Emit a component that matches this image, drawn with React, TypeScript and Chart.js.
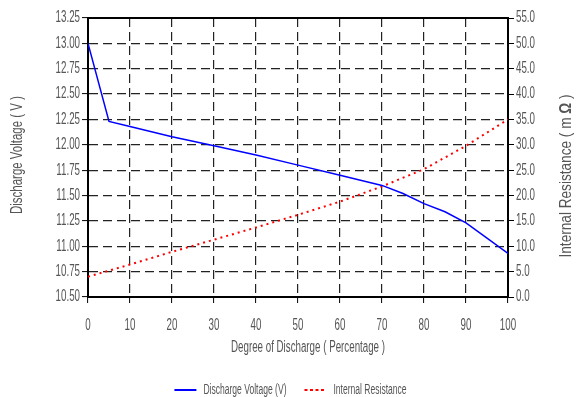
import React, { useEffect, useRef } from "react";
import { Chart, registerables } from "chart.js";

Chart.register(...registerables);

const dischargePct = [0, 5, 10, 20, 30, 40, 50, 60, 70, 75, 80, 85, 90, 95, 100];
const voltage = [13.0, 12.23, 12.18, 12.08, 11.99, 11.9, 11.8, 11.7, 11.6, 11.52, 11.42, 11.34, 11.23, 11.08, 10.93];

const resistancePct = [0, 10, 20, 30, 40, 50, 60, 70, 80, 90, 100];
const resistance = [4.0, 6.4, 8.9, 11.3, 13.7, 16.2, 18.8, 21.8, 25.2, 29.8, 35.0];

const seriesNames = ["Discharge Voltage (V)", "Internal Resistance"];
const xTitle = "Degree of Discharge ( Percentage )";
const yLeftTitle = "Discharge Voltage ( V )";
const yRightTitleParts = ["Internal Resistance ( m ", "Ω", " )"];

const FONT = "'Liberation Sans', Arial, sans-serif";
const TEXT = "#555555";
const CONDENSE = 0.61;

function condense(ctx: any) {
  if (ctx.__condensed) return;
  ctx.__condensed = true;
  const mt = ctx.measureText.bind(ctx);
  const ft = ctx.fillText.bind(ctx);
  ctx.measureText = (t: string) => {
    const m = mt(t);
    return {
      width: m.width * CONDENSE,
      actualBoundingBoxAscent: m.actualBoundingBoxAscent,
      actualBoundingBoxDescent: m.actualBoundingBoxDescent,
      actualBoundingBoxLeft: m.actualBoundingBoxLeft * CONDENSE,
      actualBoundingBoxRight: m.actualBoundingBoxRight * CONDENSE,
      fontBoundingBoxAscent: m.fontBoundingBoxAscent,
      fontBoundingBoxDescent: m.fontBoundingBoxDescent,
    };
  };
  ctx.fillText = (t: string, x: number, y: number, maxW?: number) => {
    const w = mt(t).width * CONDENSE;
    if (w <= 0) return;
    ft(t, x, y, maxW === undefined ? w : Math.min(maxW, w));
  };
}

function drawTitle(ctx: any, parts: [string, string][], cx: number, cy: number, length: number, vertical: boolean) {
  ctx.save();
  ctx.translate(cx, cy);
  if (vertical) ctx.rotate(-Math.PI / 2);
  let total = 0;
  const widths = parts.map(([t, f]) => {
    ctx.font = f;
    const w = ctx.measureText(t).width;
    total += w;
    return w;
  });
  ctx.scale(length / total, 1);
  ctx.fillStyle = TEXT;
  ctx.textBaseline = "middle";
  ctx.textAlign = "left";
  let x = -total / 2;
  parts.forEach(([t, f], i) => {
    ctx.font = f;
    ctx.fillText(t, x, 0);
    x += widths[i];
  });
  ctx.restore();
}

const frame = {
  id: "frame",
  afterDatasetsDraw(chart: any) {
    const { ctx, chartArea } = chart;
    ctx.save();
    ctx.strokeStyle = "#000";
    ctx.lineWidth = 2;
    ctx.setLineDash([]);
    ctx.beginPath();
    ctx.moveTo(chartArea.left - 1, chartArea.top);
    ctx.lineTo(chartArea.right + 1, chartArea.top);
    ctx.stroke();
    ctx.restore();
  },
  afterDraw(chart: any) {
    const { ctx } = chart;
    const normal = `16px ${FONT}`;
    const bold = `bold 16px ${FONT}`;
    drawTitle(ctx, [[xTitle, normal]], 308, 348, 154, false);
    drawTitle(ctx, [[yLeftTitle, normal]], 18, 155, 118, true);
    drawTitle(
      ctx,
      [[yRightTitleParts[0], normal], [yRightTitleParts[1], bold], [yRightTitleParts[2], normal]],
      567,
      176,
      163,
      true
    );
  },
};

export default function App() {
  const ref = useRef<HTMLCanvasElement>(null);
  useEffect(() => {
    document.body.style.margin = "0";
    const canvas = ref.current as HTMLCanvasElement;
    condense(canvas.getContext("2d"));
    const chart = new Chart(canvas, {
      type: "line",
      data: {
        datasets: [
          {
            label: seriesNames[0],
            data: dischargePct.map((x, i) => ({ x, y: voltage[i] })),
            borderColor: "#0000ff",
            backgroundColor: "#0000ff",
            borderWidth: 1.5,
            pointRadius: 0,
            pointStyle: "line",
            yAxisID: "y",
          },
          {
            label: seriesNames[1],
            data: resistancePct.map((x, i) => ({ x, y: resistance[i] })),
            borderColor: "#ff0000",
            backgroundColor: "#ff0000",
            borderWidth: 2,
            borderDash: [2, 4],
            pointRadius: 0,
            pointStyle: "line",
            yAxisID: "y1",
          },
        ],
      } as any,
      options: {
        animation: false,
        responsive: false,
        maintainAspectRatio: false,
        layout: { padding: { top: 18, bottom: -10, left: 0, right: 0 } },
        plugins: {
          tooltip: { enabled: false },
          legend: {
            position: "bottom",
            labels: {
              usePointStyle: true,
              pointStyleWidth: 22,
              boxHeight: 14,
              padding: 18,
              color: TEXT,
              font: { family: FONT, size: 14 },
              generateLabels: (chart: any) =>
                chart.data.datasets.map((ds: any, i: number) => ({
                  text: ds.label,
                  fillStyle: ds.borderColor,
                  strokeStyle: ds.borderColor,
                  lineWidth: 2,
                  lineDash: ds.borderDash ? [3, 2.5] : [],
                  pointStyle: "line",
                  fontColor: TEXT,
                  hidden: false,
                  datasetIndex: i,
                })),
            },
          },
        },
        scales: {
          x: {
            type: "linear",
            min: 0,
            max: 100,
            ticks: { stepSize: 10, color: TEXT, font: { family: FONT, size: 16 }, padding: 13 },
            grid: { color: "#222", lineWidth: 1.2, tickLength: 6, tickColor: "#000", tickWidth: 1 },
            border: { color: "#000", width: 2, dash: [9, 5] },
            title: { display: false },
            afterFit: (s: any) => { s.height = 68; },
          },
          y: {
            type: "linear",
            position: "left",
            min: 10.5,
            max: 13.25,
            ticks: { stepSize: 0.25, color: TEXT, font: { family: FONT, size: 16 }, padding: 2, callback: (v: any) => Number(v).toFixed(2) },
            grid: { color: "#222", lineWidth: 1.2, tickLength: 6, tickColor: "#000", tickWidth: 1 },
            border: { color: "#000", width: 2, dash: [9, 5] },
            title: { display: false },
            afterFit: (s: any) => { s.width = 88; },
          },
          y1: {
            type: "linear",
            position: "right",
            min: 0,
            max: 55,
            ticks: { stepSize: 5, color: TEXT, font: { family: FONT, size: 16 }, padding: 2, callback: (v: any) => Number(v).toFixed(1) },
            grid: { drawOnChartArea: false, tickLength: 6, tickColor: "#000", tickWidth: 1 },
            border: { color: "#000", width: 2 },
            title: { display: false },
            afterFit: (s: any) => { s.width = 73; },
          },
        },
      } as any,
      plugins: [frame],
    });
    return () => chart.destroy();
  }, []);
  return (
    <div style={{ width: 581, height: 397 }}>
      <canvas ref={ref} width={581} height={397} style={{ width: 581, height: 397 }} />
    </div>
  );
}
